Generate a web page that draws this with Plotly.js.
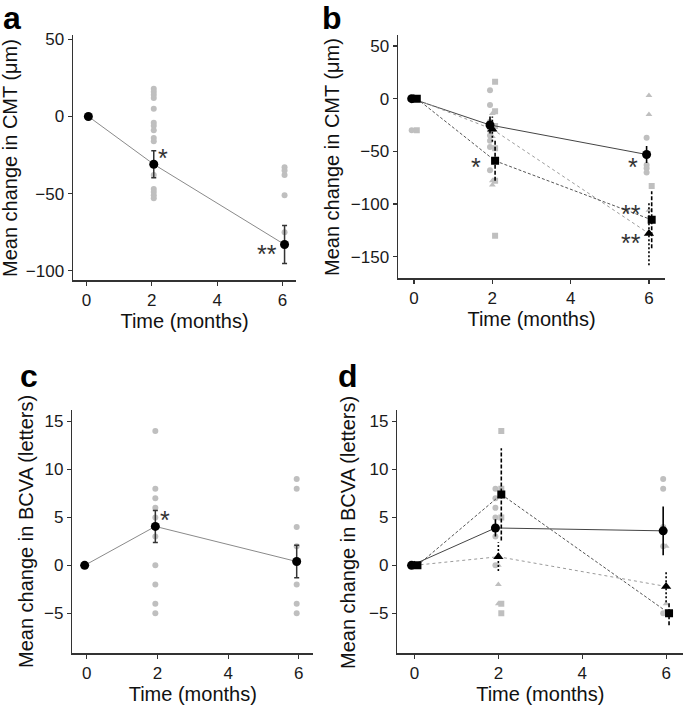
<!DOCTYPE html>
<html>
<head>
<meta charset="utf-8">
<script src="https://cdn.plot.ly/plotly-3.0.1.min.js"></script>
<style>html,body{margin:0;padding:0;background:#fff;}#chart{width:685px;height:707px;}</style>
</head>
<body>
<div id="chart"></div>
<script>
// ---------- DATA ----------
const times = [0, 2, 6];
const xTickVals = [0, 2, 4, 6];
const xTitle = "Time (months)";
const yTitleCMT = "Mean change in CMT (μm)";
const yTitleBCVA = "Mean change in BCVA (letters)";
const panelLetters = ["a", "b", "c", "d"];

// Panel a: CMT, all eyes
const aMean = [0, -31, -83];
const aErr = [0, 8.7, 12.3];
const aIndivT2 = [18, 16, 14, 12, 5, -4, -6, -9, -14, -16, -38, -47, -49, -51, -53];
const aIndivT6 = [-33, -35, -38, -51, -75];

// Panel b: CMT by group (circle, triangle, square)
const bCircleMean = [0, -25, -53];
const bCircleErr = [0, 8, 8];
const bTriangleMean = [0, -29, -128];
const bTriangleErr = [0, 12, 30];
const bSquareMean = [0, -59, -115];
const bSquareErr = [0, 19, 27];
const bCircleIndivT0 = [-30];
const bSquareIndivT0 = [-30];
const bCircleIndivT2 = [8, -6, -22, -30, -35, -40, -46, -68];
const bTriangleIndivT2 = [-14, -30, -36, -78, -82];
const bSquareIndivT2 = [16, -12, -26, -47, -78, -130];
const bCircleIndivT6 = [-37, -63, -66, -70];
const bTriangleIndivT6 = [3, -15, -106];
const bSquareIndivT6 = [-83];

// Panel c: BCVA, all eyes
const cMean = [0, 4.06, 0.4];
const cErr = [0, 1.67, 1.7];
const cIndivT2 = [14, 8, 7, 6, 5, 3, 0, -2, -4, -5];
const cIndivT6 = [9, 8, 4, 2, -2, -4, -5];

// Panel d: BCVA by group
const dCircleMean = [0, 3.9, 3.6];
const dCircleErr = [0, 0.9, 2.55];
const dTriangleMean = [0, 0.9, -2.2];
const dTriangleErr = [0, 1.5, 1.65];
const dSquareMean = [0, 7.4, -5];
const dSquareErr = [0, 4.8, 1.25];
const dCircleIndivT2 = [8, 7, 6, 5, 3, 0];
const dTriangleIndivT2 = [0, -2, -4];
const dSquareIndivT2 = [14, 8, 5, -4, -5];
const dCircleIndivT6 = [9, 8, 4, 2, -5];
const dTriangleIndivT6 = [2, -4];
const dSquareIndivT6 = [-5];

// Significance marks
const sigA = [{t: 2, y: -25.2, txt: "*", dx: 0.34}, {t: 6, y: -87.3, txt: "**", dx: -0.47}];
const sigB = [{t: 2, y: -61.7, txt: "*", dx: -0.42}, {t: 6, y: -61.7, txt: "*", dx: -0.4},
              {t: 6, y: -106.6, txt: "**", dx: -0.47}, {t: 6, y: -133.8, txt: "**", dx: -0.47}];
const sigC = [{t: 2, y: 5.06, txt: "*", dx: 0.2}];

// ---------- STYLE / LAYOUT ----------
const W = 685, H = 707;
const FONT = "Liberation Sans, Arial, Helvetica, sans-serif";
const GRAY = "#bfbfbf";
const AX = "#333333";
const px = v => v / W;
const py = v => 1 - v / H;

const traces = [];
function grayPts(xa, ya, t, vals, off, symbol) {
  traces.push({x: vals.map(() => t + off), y: vals, xaxis: xa, yaxis: ya, type: "scatter", mode: "markers",
    marker: {color: GRAY, size: 6, symbol: symbol}, hoverinfo: "skip"});
}
function meanLine(xa, ya, means, off, color, dash) {
  traces.push({x: times.map(t => t + off), y: means, xaxis: xa, yaxis: ya, type: "scatter", mode: "lines",
    line: {color: color, width: 1, dash: dash}, hoverinfo: "skip"});
}
function errSegs(xa, ya, means, errs, off, dash) {
  const xs = [], ys = [];
  times.forEach((t, i) => { if (errs[i] > 0) { xs.push(t + off, t + off, null); ys.push(means[i] - errs[i], means[i] + errs[i], null); } });
  traces.push({x: xs, y: ys, xaxis: xa, yaxis: ya, type: "scatter", mode: "lines",
    line: {color: "#000", width: 1.6, dash: dash}, hoverinfo: "skip"});
}
function meanPts(xa, ya, means, off, symbol, size, errs) {
  const tr = {x: times.map(t => t + off), y: means, xaxis: xa, yaxis: ya, type: "scatter", mode: "markers",
    marker: {color: "#000", size: size, symbol: symbol}, hoverinfo: "skip"};
  if (errs) tr.error_y = {type: "data", array: errs, visible: true, color: AX, thickness: 1.5, width: 2.5};
  traces.push(tr);
}

// Panel a
const offA = 0.06;
grayPts("x", "y", 2, aIndivT2, offA, "circle");
grayPts("x", "y", 6, aIndivT6, offA, "circle");
meanLine("x", "y", aMean, offA, "#8a8a8a", "solid");
meanPts("x", "y", aMean, offA, "circle", 9, aErr);

// Panel b
const oC = -0.06, oT = 0.0, oS = 0.07;
grayPts("x2", "y2", 0, bCircleIndivT0, oC, "circle");
grayPts("x2", "y2", 0, bSquareIndivT0, oS, "square");
grayPts("x2", "y2", 2, bCircleIndivT2, oC, "circle");
grayPts("x2", "y2", 2, bTriangleIndivT2, oT, "triangle-up");
grayPts("x2", "y2", 2, bSquareIndivT2, oS, "square");
grayPts("x2", "y2", 6, bCircleIndivT6, oC, "circle");
grayPts("x2", "y2", 6, bTriangleIndivT6, oT, "triangle-up");
grayPts("x2", "y2", 6, bSquareIndivT6, oS, "square");
meanLine("x2", "y2", bCircleMean, oC, "#444", "solid");
meanLine("x2", "y2", bTriangleMean, oT, "#9a9a9a", "dot");
meanLine("x2", "y2", bSquareMean, oS, "#555", "3px,2px");
errSegs("x2", "y2", bCircleMean, bCircleErr, oC, "solid");
errSegs("x2", "y2", bTriangleMean, bTriangleErr, oT, "2px,2px");
errSegs("x2", "y2", bSquareMean, bSquareErr, oS, "4px,2px");
meanPts("x2", "y2", bTriangleMean, oT, "triangle-up", 9);
meanPts("x2", "y2", bCircleMean, oC, "circle", 9);
meanPts("x2", "y2", bSquareMean, oS, "square", 8);

// Panel c
const offC = -0.06;
grayPts("x3", "y3", 2, cIndivT2, offC, "circle");
grayPts("x3", "y3", 6, cIndivT6, offC, "circle");
meanLine("x3", "y3", cMean, offC, "#8a8a8a", "solid");
meanPts("x3", "y3", cMean, offC, "circle", 9, cErr);

// Panel d
const dC = -0.07, dT = 0.0, dS = 0.07;
grayPts("x4", "y4", 2, dCircleIndivT2, dC, "circle");
grayPts("x4", "y4", 2, dTriangleIndivT2, dT, "triangle-up");
grayPts("x4", "y4", 2, dSquareIndivT2, dS, "square");
grayPts("x4", "y4", 6, dCircleIndivT6, dC, "circle");
grayPts("x4", "y4", 6, dTriangleIndivT6, dT, "triangle-up");
grayPts("x4", "y4", 6, dSquareIndivT6, dS, "square");
meanLine("x4", "y4", dCircleMean, dC, "#444", "solid");
meanLine("x4", "y4", dTriangleMean, dT, "#9a9a9a", "dot");
meanLine("x4", "y4", dSquareMean, dS, "#555", "3px,2px");
errSegs("x4", "y4", dCircleMean, dCircleErr, dC, "solid");
errSegs("x4", "y4", dTriangleMean, dTriangleErr, dT, "2px,2px");
errSegs("x4", "y4", dSquareMean, dSquareErr, dS, "4px,2px");
meanPts("x4", "y4", dTriangleMean, dT, "triangle-up", 9);
meanPts("x4", "y4", dCircleMean, dC, "circle", 9);
meanPts("x4", "y4", dSquareMean, dS, "square", 8);

function xAxis(dom, anchor) {
  return {domain: [px(dom[0]), px(dom[1])], anchor: anchor, range: [-0.41, 6.41], tickvals: xTickVals,
    showline: true, linecolor: AX, linewidth: 1.5, ticks: "outside", ticklen: 4, tickwidth: 1.2, tickcolor: AX,
    showgrid: false, zeroline: false, tickfont: {family: FONT, size: 17, color: "#1a1a1a"},
    title: {text: xTitle, font: {family: FONT, size: 20, color: "#111"}, standoff: 4}};
}
function yAxis(dom, anchor, range, tv) {
  return {domain: [py(dom[1]), py(dom[0])], anchor: anchor, range: range, tickvals: tv,
    showline: true, linecolor: AX, linewidth: 1.5, ticks: "outside", ticklen: 4, tickwidth: 1.2, tickcolor: AX,
    showgrid: false, zeroline: false, tickfont: {family: FONT, size: 17, color: "#1a1a1a"}};
}

const annotations = [];
function sig(xa, ya, list) {
  list.forEach(s => annotations.push({x: s.t + s.dx, y: s.y, xref: xa, yref: ya, text: s.txt, showarrow: false,
    font: {family: FONT, size: 25, color: "#333"}, xanchor: "center", yanchor: "middle", yshift: -3}));
}
sig("x", "y", sigA); sig("x2", "y2", sigB); sig("x3", "y3", sigC);

function yTitle(text, cx, cy) {
  annotations.push({x: px(cx), y: py(cy), xref: "paper", yref: "paper", text: text, textangle: -90, showarrow: false,
    xanchor: "center", yanchor: "middle", font: {family: FONT, size: 20, color: "#111"}});
}
yTitle(yTitleCMT, 10, 158);
yTitle(yTitleCMT, 332, 157);
yTitle(yTitleBCVA, 26, 532);
yTitle(yTitleBCVA, 348, 532);

function letter(txt, lx, ly) {
  annotations.push({x: px(lx), y: py(ly), xref: "paper", yref: "paper", text: "<b>" + txt + "</b>", showarrow: false,
    xanchor: "left", yanchor: "top", font: {family: FONT, size: 32, color: "#000"}});
}
letter(panelLetters[0], 1, -2);
letter(panelLetters[1], 320, -2);
letter(panelLetters[2], 18, 356);
letter(panelLetters[3], 336, 356);

const layout = {
  width: W, height: H, margin: {l: 0, r: 0, t: 0, b: 0}, showlegend: false,
  paper_bgcolor: "#fff", plot_bgcolor: "#fff", font: {family: FONT},
  xaxis: xAxis([73, 296], "y"), yaxis: yAxis([35, 280], "x", [-106, 52.8], [-100, -50, 0, 50]),
  xaxis2: xAxis([398, 665], "y2"), yaxis2: yAxis([35, 278.3], "x2", [-170.5, 60.4], [-150, -100, -50, 0, 50]),
  xaxis3: xAxis([72.3, 313.3], "y3"), yaxis3: yAxis([410, 653.3], "x3", [-9.17, 16.2], [-5, 0, 5, 10, 15]),
  xaxis4: xAxis([397.3, 683.3], "y4"), yaxis4: yAxis([410, 653.3], "x4", [-9.17, 16.2], [-5, 0, 5, 10, 15]),
  annotations: annotations
};
Plotly.newPlot("chart", traces, layout, {displayModeBar: false, staticPlot: true});
</script>
</body>
</html>
